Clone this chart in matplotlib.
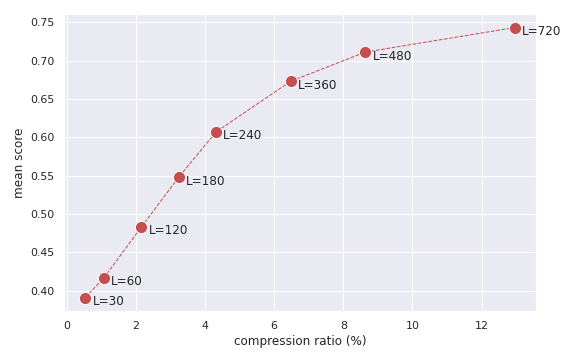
import matplotlib
matplotlib.use("Agg")
import matplotlib.pyplot as plt
import seaborn as sns

# compression ratio (%) and mean score for each context length L
lengths = [30, 60, 120, 180, 240, 360, 480, 720]
compression = [0.54, 1.08, 2.16, 3.24, 4.32, 6.48, 8.64, 12.96]
mean_score = [0.391, 0.417, 0.483, 0.548, 0.607, 0.673, 0.711, 0.743]

sns.set_theme(style="darkgrid")
red = sns.color_palette("deep")[3]

fig, ax = plt.subplots(figsize=(8, 5), dpi=72)
ax.plot(compression, mean_score, "--", color=red, linewidth=1, zorder=2)
ax.scatter(compression, mean_score, s=150, color=red, edgecolor="white",
           linewidth=1, zorder=3)

for L, x, y in zip(lengths, compression, mean_score):
    ax.annotate(f"L={L}", (x, y), xytext=(7, -4), textcoords="offset points",
                ha="left", va="center", fontsize=12, color="#262626")

ax.set_xlabel("compression ratio (%)")
ax.set_ylabel("mean score")

fig.subplots_adjust(left=0.111, right=0.931, top=0.961, bottom=0.136)
fig.savefig("out.png")
